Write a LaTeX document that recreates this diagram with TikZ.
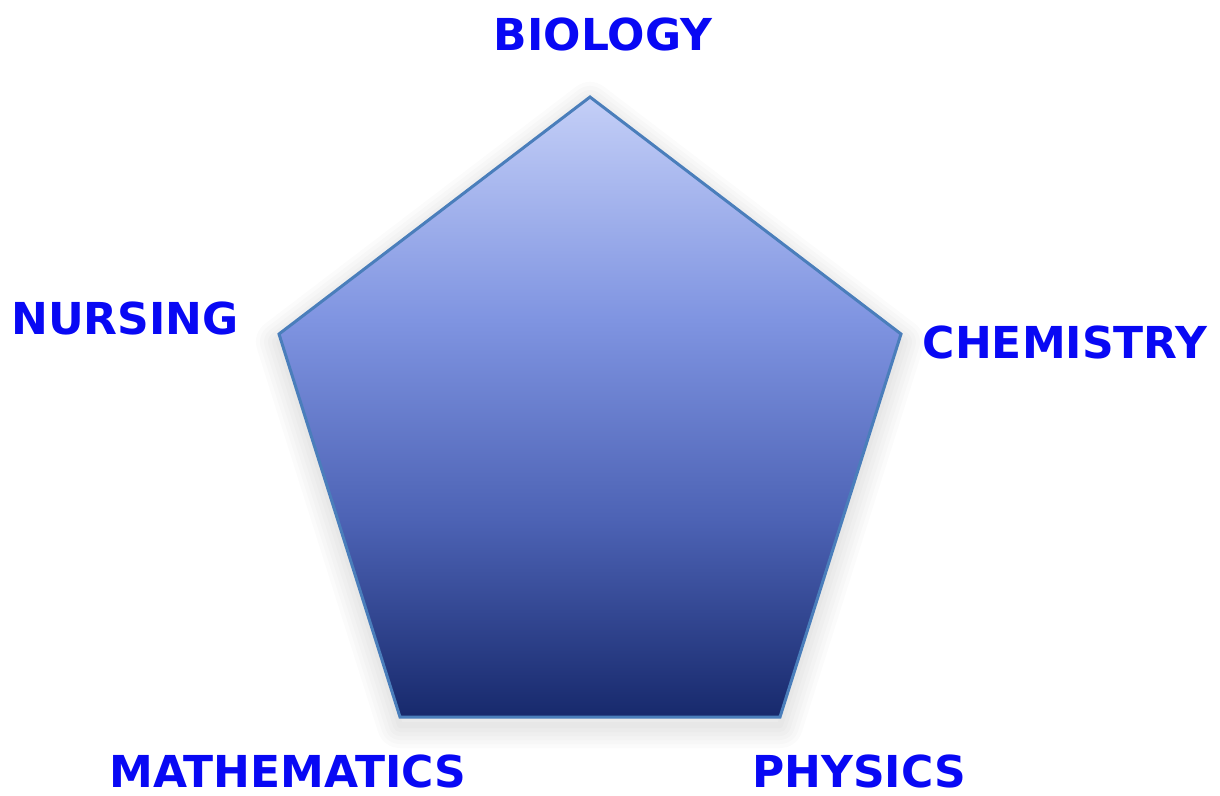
\documentclass[tikz,border=0pt]{standalone}
\usepackage{fontspec}
\setmainfont{DejaVu Sans}
\usetikzlibrary{positioning}

\definecolor{labelblue}{HTML}{0808F4}
\definecolor{edgeblue}{HTML}{4A7EBB}

% Top to bottom fill of the pentagon
\pgfdeclareverticalshading{pentfill}{100bp}{
    color(0bp)=(rgb,255:red,23;green,41;blue,108);
    color(25bp)=(rgb,255:red,23;green,41;blue,108);
    color(41bp)=(rgb,255:red,77;green,99;blue,181);
    color(57bp)=(rgb,255:red,127;green,148;blue,225);
    color(75bp)=(rgb,255:red,196;green,207;blue,247);
    color(100bp)=(rgb,255:red,196;green,207;blue,247)}

\begin{document}
\begin{tikzpicture}[
        x=1pt, y=-1pt,
        subject/.style={anchor=base, inner sep=0pt, text depth=0pt, text=labelblue, font=\fontsize{44}{50}\selectfont\bfseries},
        glow/.style={draw=black, line join=round, opacity=0.014}
    ]

    \useasboundingbox (0, 0) rectangle (1220, 795);

    % Corners of the pentagon
    \coordinate (top) at (590, 97);
    \coordinate (right) at (901, 334);
    \coordinate (lowright) at (780, 717);
    \coordinate (lowleft) at (400, 717);
    \coordinate (left) at (279, 334);

    % Soft shadow round the shape
    \foreach \w in {6, 14, 22, 30, 38, 46}
        \draw[glow, line width=\w pt] ([yshift=-8]top) -- ([yshift=-8]right) -- ([yshift=-8]lowright) -- ([yshift=-8]lowleft) -- ([yshift=-8]left) -- cycle;
    \fill[white] (top) -- (right) -- (lowright) -- (lowleft) -- (left) -- cycle;

    % The pentagon
    \draw[edgeblue, line width=3pt, line join=miter, shading=pentfill]
        (top) -- (right) -- (lowright) -- (lowleft) -- (left) -- cycle;

    % Subjects
    \node[subject] (biology) at (603, 50) {BIOLOGY};
    \node[subject] (nursing) at (125, 334) {NURSING};
    \node[subject] (chemistry) at (1065, 358) {CHEMISTRY};
    \node[subject] (maths) at (288, 787) {MATHEMATICS};
    \node[subject] (physics) at (859, 787) {PHYSICS};

\end{tikzpicture}
\end{document}
